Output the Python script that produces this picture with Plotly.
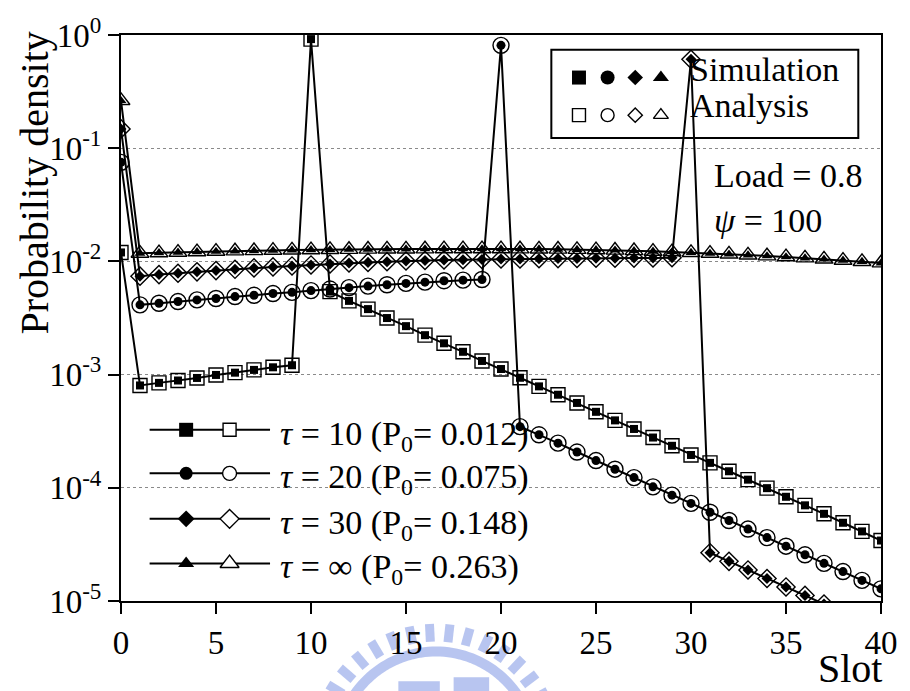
import math
import plotly.graph_objects as go

# ---- data: probability density per slot for each deadline tau ----
slots = list(range(41))

tau10 = [0.012, 8.02e-4, 8.45e-4, 8.87e-4, 9.34e-4, 9.93e-4, 1.04e-3, 1.10e-3, 1.16e-3, 1.21e-3,
         0.92, 5.41e-3, 4.48e-3, 3.79e-3, 3.16e-3, 2.68e-3, 2.23e-3, 1.89e-3, 1.59e-3, 1.32e-3,
         1.12e-3, 9.38e-4, 7.87e-4, 6.64e-4, 5.62e-4, 4.69e-4, 3.94e-4, 3.31e-4, 2.78e-4, 2.35e-4,
         1.95e-4, 1.66e-4, 1.40e-4, 1.18e-4, 9.93e-5, 8.33e-5, 7.00e-5, 5.89e-5, 4.91e-5, 4.12e-5,
         3.42e-5]

tau20 = [0.075, 4.13e-3, 4.27e-3, 4.42e-3, 4.57e-3, 4.70e-3, 4.89e-3, 5.02e-3, 5.20e-3, 5.33e-3,
         5.52e-3, 5.70e-3, 5.86e-3, 6.05e-3, 6.22e-3, 6.39e-3, 6.56e-3, 6.75e-3, 6.83e-3, 6.92e-3,
         0.81, 3.47e-4, 2.94e-4, 2.48e-4, 2.07e-4, 1.74e-4, 1.46e-4, 1.23e-4, 1.02e-4, 8.61e-5,
         7.28e-5, 6.08e-5, 5.14e-5, 4.32e-5, 3.63e-5, 3.05e-5, 2.56e-5, 2.15e-5, 1.82e-5, 1.52e-5,
         1.28e-5]

tau30 = [0.148, 7.40e-3, 7.65e-3, 7.86e-3, 8.09e-3, 8.30e-3, 8.52e-3, 8.76e-3, 8.93e-3, 9.11e-3,
         9.30e-3, 9.49e-3, 9.68e-3, 9.80e-3, 9.94e-3, 1.008e-2, 1.02e-2, 1.03e-2, 1.035e-2, 1.04e-2,
         1.05e-2, 1.051e-2, 1.056e-2, 1.060e-2, 1.063e-2, 1.066e-2, 1.068e-2, 1.070e-2, 1.072e-2, 1.077e-2,
         0.61, 2.67e-5, 2.24e-5, 1.88e-5, 1.58e-5, 1.33e-5, 1.12e-5, 9.4e-6, None, None,
         None]

tau_inf = [0.263, 0.01179, 0.01191, 0.01203, 0.01215, 0.01225, 0.01235, 0.01242, 0.01250, 0.01258,
           0.01265, 0.01270, 0.01275, 0.01280, 0.01283, 0.01285, 0.01288, 0.01290, 0.01290, 0.01290,
           0.01290, 0.01288, 0.01285, 0.01280, 0.01273, 0.01265, 0.01255, 0.01242, 0.01227, 0.01213,
           0.01196, 0.01177, 0.01158, 0.01137, 0.01117, 0.01095, 0.01071, 0.01047, 0.01022, 0.00996,
           0.00968]

series_labels = ["<i>τ</i> = 10 (P<sub>0</sub>= 0.012)",
                 "<i>τ</i> = 20 (P<sub>0</sub>= 0.075)",
                 "<i>τ</i> = 30 (P<sub>0</sub>= 0.148)",
                 "<i>τ</i> = ∞ (P<sub>0</sub>= 0.263)"]

x_ticks = [0, 5, 10, 15, 20, 25, 30, 35, 40]
y_ticks = [1e-5, 1e-4, 1e-3, 1e-2, 1e-1, 1]
y_ticktext = ["10<sup>-5</sup>", "10<sup>-4</sup>", "10<sup>-3</sup>",
              "10<sup>-2</sup>", "10<sup>-1</sup>", "10<sup>0</sup>"]

# ---- styling ----
FONT = "Liberation Serif"
W, H = 910, 691
ML, MR, MT, MB = 121, 19, 29, 90
PW, PH = W - ML - MR, H - MT - MB


def px(x):
    return (x - ML) / PW


def py(y):
    return (H - MB - y) / PH


# (open symbol, open size, filled symbol, filled size) per series
styles = [
    ("square-open", 14, "square", 8),
    ("circle-open", 16, "circle", 9),
    ("diamond-open", 14, "diamond", 8.5),
    ("triangle-up-open", 15.5, "triangle-up", 9.5),
]
all_series = [tau10, tau20, tau30, tau_inf]

fig = go.Figure()

# analysis: open markers
for vals, (osym, osz, fsym, fsz) in zip(all_series, styles):
    fig.add_trace(go.Scatter(
        x=slots, y=vals, mode="markers",
        marker=dict(symbol=osym, size=osz, color="black", line=dict(width=1.4, color="black")),
        showlegend=False, hoverinfo="skip"))

# simulation: solid line with filled markers
for vals, (osym, osz, fsym, fsz) in zip(all_series, styles):
    fig.add_trace(go.Scatter(
        x=slots, y=vals, mode="lines+markers",
        line=dict(color="black", width=2),
        marker=dict(symbol=fsym, size=fsz, color="black"),
        connectgaps=False, showlegend=False, hoverinfo="skip"))

# ---- bottom-left key (drawn on an overlay axis in plot-fraction units) ----
key_rows = [428, 472, 518, 563]
key_filled_sizes = [14, 13, 13, 14]
key_open_sizes = [13, 14, 14.5, 16.5]
for i, (row, (osym, osz, fsym, fsz)) in enumerate(zip(key_rows, styles)):
    fig.add_trace(go.Scatter(
        x=[px(150), px(272)], y=[py(row), py(row)], mode="lines",
        line=dict(color="black", width=2), xaxis="x2", yaxis="y2",
        showlegend=False, hoverinfo="skip", cliponaxis=False))
    fig.add_trace(go.Scatter(
        x=[px(187)], y=[py(row)], mode="markers",
        marker=dict(symbol=fsym, size=key_filled_sizes[i], color="black"),
        xaxis="x2", yaxis="y2", showlegend=False, hoverinfo="skip", cliponaxis=False))
    fig.add_trace(go.Scatter(
        x=[px(231)], y=[py(row)], mode="markers",
        marker=dict(symbol=osym.replace("-open", ""), size=key_open_sizes[i], color="white",
                    line=dict(width=1.4, color="black")),
        xaxis="x2", yaxis="y2", showlegend=False, hoverinfo="skip", cliponaxis=False))

# ---- top-right key ----
key_x = [585, 614, 642, 668]
for kx, (osym, osz, fsym, fsz) in zip(key_x, styles):
    fig.add_trace(go.Scatter(
        x=[px(kx)], y=[py(72)], mode="markers",
        marker=dict(symbol=fsym, size=14 if fsym != "diamond" else 12, color="black"),
        xaxis="x2", yaxis="y2", showlegend=False, hoverinfo="skip", cliponaxis=False))
    fig.add_trace(go.Scatter(
        x=[px(kx)], y=[py(110)], mode="markers",
        marker=dict(symbol=osym.replace("-open", ""), size=13 if fsym != "diamond" else 11,
                    color="white", line=dict(width=1.4, color="black")),
        xaxis="x2", yaxis="y2", showlegend=False, hoverinfo="skip", cliponaxis=False))

annotations = []


def add_text(text, x, y, size, xanchor="left", yanchor="middle", angle=0):
    annotations.append(dict(
        text=text, x=px(x), y=py(y), xref="paper", yref="paper",
        xanchor=xanchor, yanchor=yanchor, showarrow=False, textangle=angle,
        font=dict(family=FONT, size=size, color="black")))


for row, label in zip(key_rows, series_labels):
    add_text(label, 280, row + 6, 34)

add_text("Simulation", 695, 64, 34)
add_text("Analysis", 695, 100, 34)
add_text("Load = 0.8", 720, 171, 34)
add_text("<i>ψ</i> = 100", 720, 216, 34)
add_text("Probability density", 33, 179, 40, xanchor="center", angle=-90)
add_text("Slot", 894, 669, 40, xanchor="right")

shapes = [
    dict(type="rect", xref="paper", yref="paper",
         x0=px(557), x1=px(868), y0=py(44), y1=py(133),
         line=dict(color="black", width=2), layer="below"),
]

# ---- faint emblem below the axis ----
wm = "rgba(125,150,228,0.55)"
cx, cy = 440, 752
arc_pts = []
for k in range(0, 61):
    a = math.radians(162 - k * (140 / 60))
    arc_pts.append((cx + 100 * math.cos(a), cy - 100 * math.sin(a)))
path = "M " + " L ".join(f"{px(a):.5f},{py(b):.5f}" for a, b in arc_pts)
shapes.append(dict(type="path", path=path, xref="paper", yref="paper",
                   line=dict(color=wm, width=10), layer="below"))
for k in range(15):
    a = math.radians(158 - k * 9.3)
    x0, y0 = cx + 110 * math.cos(a), cy - 110 * math.sin(a)
    x1, y1 = cx + 128 * math.cos(a), cy - 128 * math.sin(a)
    shapes.append(dict(type="line", xref="paper", yref="paper",
                       x0=px(x0), y0=py(y0), x1=px(x1), y1=py(y1),
                       line=dict(color=wm, width=9), layer="below"))
for bx0, bx1, by0 in [(402, 444, 682), (458, 494, 678)]:
    shapes.append(dict(type="rect", xref="paper", yref="paper",
                       x0=px(bx0), x1=px(bx1), y0=py(by0), y1=py(H + 5),
                       line=dict(width=0), fillcolor=wm, layer="below"))

axis_common = dict(
    showline=True, linecolor="black", linewidth=2, mirror=True,
    ticks="outside", ticklen=11, tickwidth=2, tickcolor="black",
    tickfont=dict(family=FONT, size=33, color="black"),
    zeroline=False,
)

fig.update_layout(
    width=W, height=H,
    margin=dict(l=ML, r=MR, t=MT, b=MB),
    paper_bgcolor="white", plot_bgcolor="white",
    font=dict(family=FONT, color="black"),
    showlegend=False,
    xaxis=dict(range=[0, 40], tickvals=x_ticks, showgrid=False, **axis_common),
    yaxis=dict(type="log", range=[-5, 0], tickvals=y_ticks, ticktext=y_ticktext,
               showgrid=True, gridcolor="#8a8a8a", gridwidth=1, griddash="dot",
               **axis_common),
    xaxis2=dict(overlaying="x", range=[0, 1], visible=False),
    yaxis2=dict(overlaying="y", range=[0, 1], visible=False),
    annotations=annotations,
    shapes=shapes,
)

fig.write_html("out.html")
